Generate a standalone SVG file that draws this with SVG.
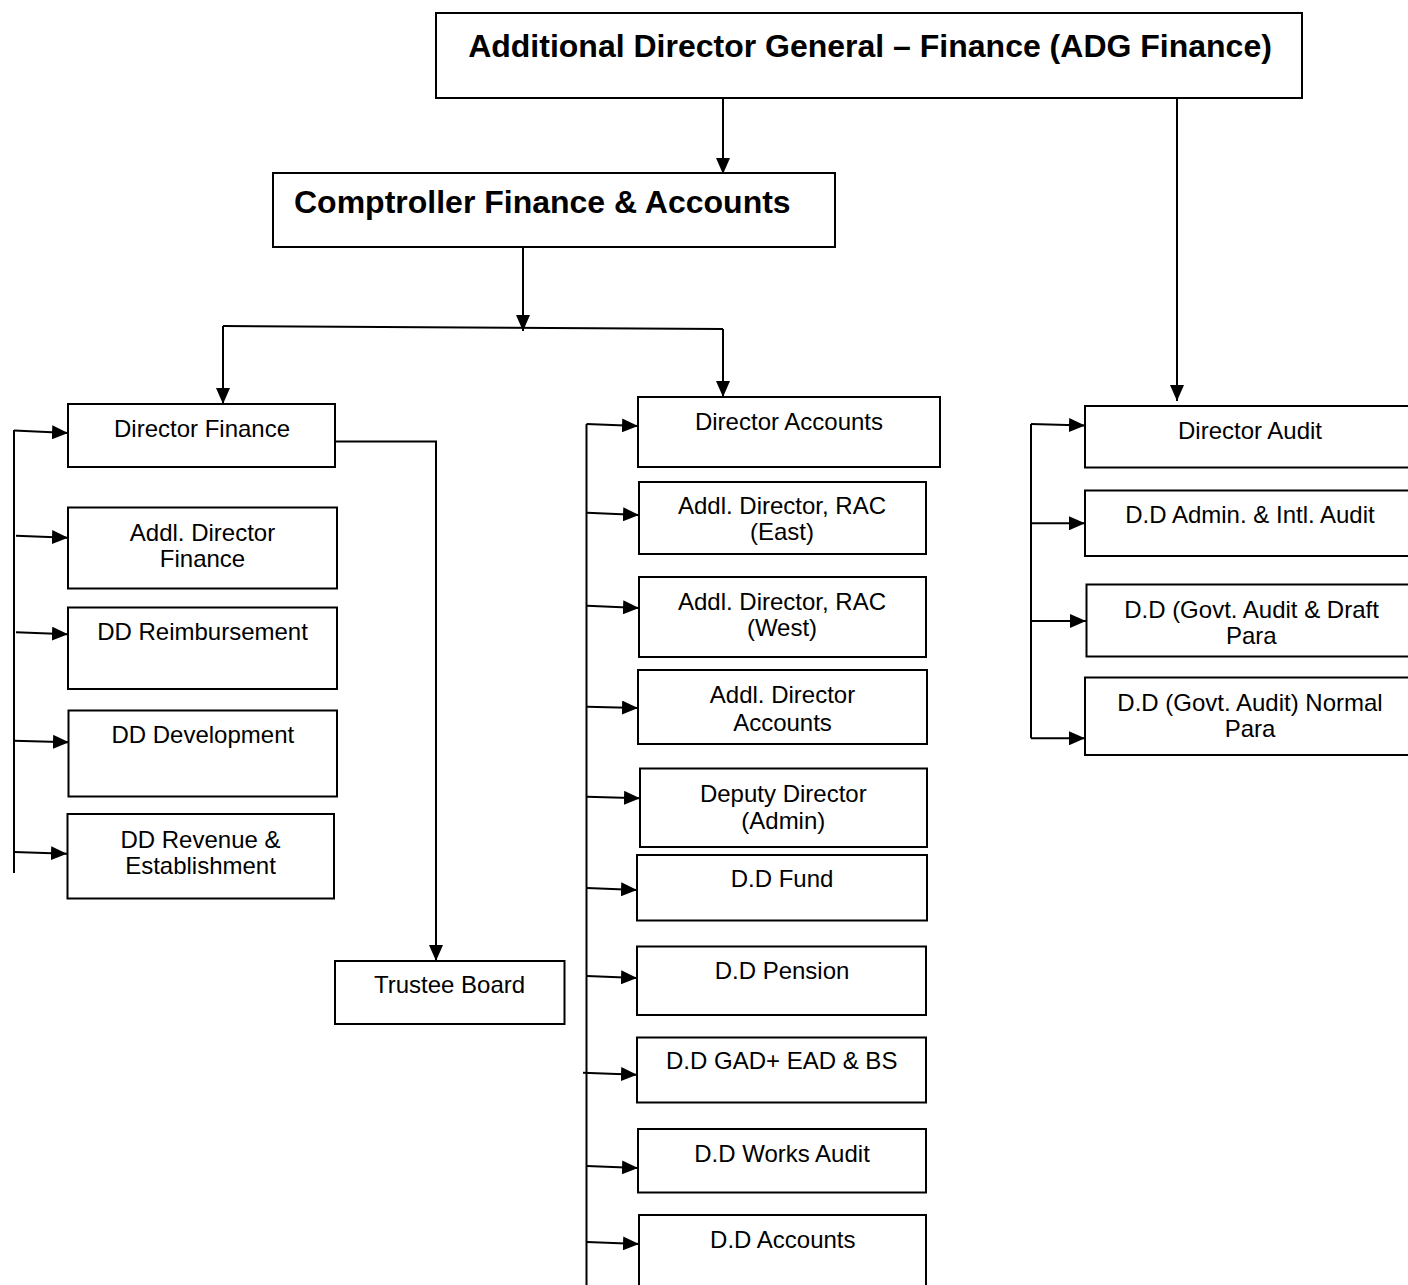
<svg xmlns="http://www.w3.org/2000/svg" width="1408" height="1285" viewBox="0 0 1408 1285">
  <defs>
    <marker id="arrow" viewBox="0 0 16 14" refX="16" refY="7" markerWidth="16" markerHeight="14" markerUnits="userSpaceOnUse" orient="auto">
      <path d="M0,0 L16,7 L0,14 Z" fill="#000"/>
    </marker>
    <style>
      .box { fill: #fff; stroke: #000; stroke-width: 2; }
      .lbl { font-family: "Liberation Sans", Arial, sans-serif; font-size: 24px; fill: #000; text-anchor: middle; }
      .head { font-family: "Liberation Sans", Arial, sans-serif; font-size: 32px; font-weight: bold; fill: #000; }
      .wire { fill: none; stroke: #000; stroke-width: 2; }
      .arr { fill: none; stroke: #000; stroke-width: 2; marker-end: url(#arrow); }
    </style>
  </defs>
  <rect width="1408" height="1285" fill="#fff"/>

  <!-- connectors -->
  <g id="connectors">
    <!-- top level -->
    <path class="arr" d="M723,98 L723,174"/>
    <path class="arr" d="M1177,98 L1177,401"/>
    <!-- comptroller split -->
    <path class="arr" d="M523,247 L523,331"/>
    <path class="wire" d="M223,326 L723,329"/>
    <path class="arr" d="M223,326 L223,404"/>
    <path class="arr" d="M723,329 L723,397"/>
    <!-- director finance to trustee board -->
    <path class="arr" d="M336,441.5 L436,441.5 L436,961"/>
    <!-- finance bus -->
    <path class="wire" d="M14,430 L14,873"/>
    <path class="arr" d="M14,430.5 L68,433"/>
    <path class="arr" d="M16,535.7 L68,537.7"/>
    <path class="arr" d="M16,632.3 L68,634.3"/>
    <path class="arr" d="M14,740.7 L69,742.3"/>
    <path class="arr" d="M14,852 L67,853.7"/>
    <!-- accounts bus -->
    <path class="wire" d="M586.5,424 L586.5,1290"/>
    <path class="arr" d="M586.5,424 L638,426"/>
    <path class="arr" d="M587,512.7 L639,515"/>
    <path class="arr" d="M587,605.7 L639,608"/>
    <path class="arr" d="M587,706.7 L638,708"/>
    <path class="arr" d="M587,796.7 L640,798.3"/>
    <path class="arr" d="M587,888 L637,890"/>
    <path class="arr" d="M587,976 L637,978"/>
    <path class="arr" d="M583,1072.7 L637,1074.7"/>
    <path class="arr" d="M587,1166 L638,1168"/>
    <path class="arr" d="M587,1242 L639,1244"/>
    <!-- audit bus -->
    <path class="wire" d="M1031,424 L1031,738.3"/>
    <path class="arr" d="M1031,424 L1085,425.5"/>
    <path class="arr" d="M1031,523.3 L1085,523.3"/>
    <path class="arr" d="M1031,621 L1086,621"/>
    <path class="arr" d="M1031,738.3 L1085,738.3"/>
  </g>

  <!-- top tier -->
  <g id="adg-finance">
    <rect class="box" x="436" y="13" width="866" height="85"/>
    <text class="head" x="870" y="57" text-anchor="middle">Additional Director General – Finance (ADG Finance)</text>
  </g>
  <g id="comptroller">
    <rect class="box" x="273" y="173" width="562" height="74"/>
    <text class="head" x="294" y="213">Comptroller Finance &amp; Accounts</text>
  </g>

  <!-- finance column -->
  <g id="director-finance">
    <rect class="box" x="68" y="404" width="267" height="63"/>
    <text class="lbl" x="202" y="437">Director Finance</text>
  </g>
  <g id="addl-director-finance">
    <rect class="box" x="68" y="507.5" width="269" height="81"/>
    <text class="lbl" x="202.5" y="541">Addl. Director</text>
    <text class="lbl" x="202.5" y="567">Finance</text>
  </g>
  <g id="dd-reimbursement">
    <rect class="box" x="68" y="607.5" width="269" height="81.5"/>
    <text class="lbl" x="202.5" y="639.5">DD Reimbursement</text>
  </g>
  <g id="dd-development">
    <rect class="box" x="68.5" y="710.5" width="268.5" height="86"/>
    <text class="lbl" x="202.8" y="743">DD Development</text>
  </g>
  <g id="dd-revenue">
    <rect class="box" x="67.5" y="814" width="266.5" height="84.5"/>
    <text class="lbl" x="200.5" y="847.5">DD Revenue &amp;</text>
    <text class="lbl" x="200.5" y="874">Establishment</text>
  </g>
  <g id="trustee-board">
    <rect class="box" x="335" y="961" width="229.5" height="63"/>
    <text class="lbl" x="449.5" y="993">Trustee Board</text>
  </g>

  <!-- accounts column -->
  <g id="director-accounts">
    <rect class="box" x="638" y="397" width="302" height="70"/>
    <text class="lbl" x="789" y="430">Director Accounts</text>
  </g>
  <g id="rac-east">
    <rect class="box" x="639" y="482" width="287" height="72"/>
    <text class="lbl" x="782" y="514">Addl. Director, RAC</text>
    <text class="lbl" x="782" y="540">(East)</text>
  </g>
  <g id="rac-west">
    <rect class="box" x="639" y="577" width="287" height="80"/>
    <text class="lbl" x="782" y="610">Addl. Director, RAC</text>
    <text class="lbl" x="782" y="636">(West)</text>
  </g>
  <g id="addl-director-accounts">
    <rect class="box" x="638" y="670" width="289" height="74"/>
    <text class="lbl" x="782.5" y="702.5">Addl. Director</text>
    <text class="lbl" x="782.5" y="730.5">Accounts</text>
  </g>
  <g id="deputy-director-admin">
    <rect class="box" x="640" y="768.5" width="287" height="78.5"/>
    <text class="lbl" x="783.3" y="801.5">Deputy Director</text>
    <text class="lbl" x="783.3" y="828.5">(Admin)</text>
  </g>
  <g id="dd-fund">
    <rect class="box" x="637" y="855" width="290" height="65.5"/>
    <text class="lbl" x="782" y="887">D.D Fund</text>
  </g>
  <g id="dd-pension">
    <rect class="box" x="637" y="946.5" width="289" height="68.5"/>
    <text class="lbl" x="782" y="979">D.D Pension</text>
  </g>
  <g id="dd-gad">
    <rect class="box" x="637" y="1037.5" width="289" height="65"/>
    <text class="lbl" x="781.7" y="1069">D.D GAD+ EAD &amp; BS</text>
  </g>
  <g id="dd-works-audit">
    <rect class="box" x="638" y="1129" width="288" height="63.5"/>
    <text class="lbl" x="782" y="1161.5">D.D Works Audit</text>
  </g>
  <g id="dd-accounts">
    <rect class="box" x="639" y="1215" width="287" height="90"/>
    <text class="lbl" x="782.8" y="1247.5">D.D Accounts</text>
  </g>

  <!-- audit column -->
  <g id="director-audit">
    <rect class="box" x="1085" y="406" width="340" height="61.5"/>
    <text class="lbl" x="1250" y="439">Director Audit</text>
  </g>
  <g id="dd-admin-intl-audit">
    <rect class="box" x="1085" y="490.5" width="340" height="65.5"/>
    <text class="lbl" x="1250" y="522.7">D.D Admin. &amp; Intl. Audit</text>
  </g>
  <g id="dd-govt-audit-draft">
    <rect class="box" x="1086.5" y="584.5" width="340" height="72"/>
    <text class="lbl" x="1251.5" y="617.7">D.D (Govt. Audit &amp; Draft</text>
    <text class="lbl" x="1251.3" y="644.3">Para</text>
  </g>
  <g id="dd-govt-audit-normal">
    <rect class="box" x="1085" y="677.5" width="340" height="77.5"/>
    <text class="lbl" x="1250" y="710.7">D.D (Govt. Audit) Normal</text>
    <text class="lbl" x="1250" y="736.7">Para</text>
  </g>
</svg>
